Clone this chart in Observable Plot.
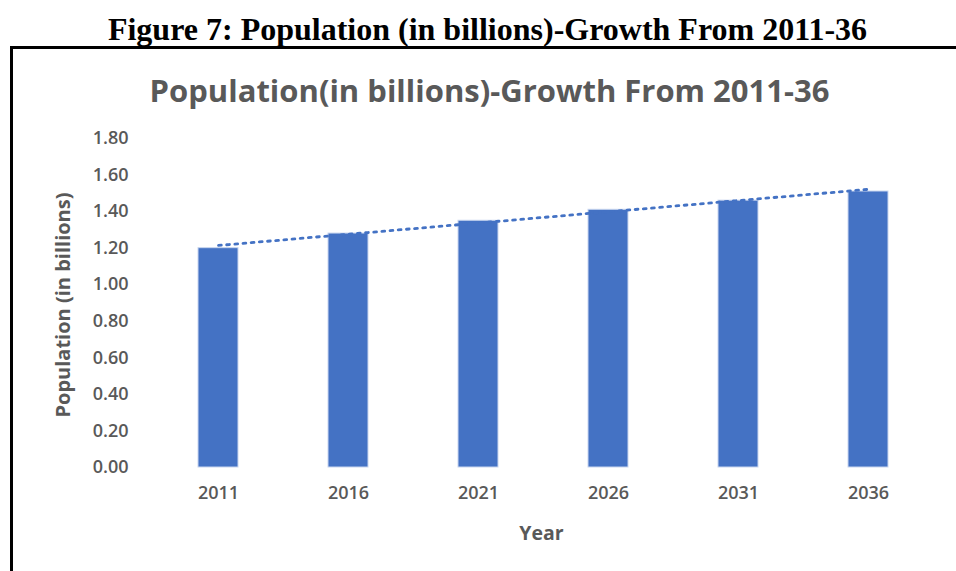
<!DOCTYPE html>
<html><head><meta charset="utf-8">
<script src="https://cdn.jsdelivr.net/npm/d3@7"></script>
<script src="https://cdn.jsdelivr.net/npm/@observablehq/plot@0.6"></script>
<style>
html,body{margin:0;padding:0;background:#fff;}
#wrap{position:relative;width:956px;height:571px;overflow:hidden;background:#fff;}
#chart{position:absolute;left:0;top:0;}
.bt{position:absolute;left:10px;top:46px;width:946px;height:3px;background:#000;}
.bl{position:absolute;left:10px;top:46px;width:3px;height:525px;background:#000;}
</style></head><body>
<div id="wrap"><div id="chart"></div><div class="bt"></div><div class="bl"></div></div>
<script>
const figureTitle = "Figure 7: Population (in billions)-Growth From 2011-36";
const chartTitle = "Population(in billions)-Growth From 2011-36";
const years = ["2011", "2016", "2021", "2026", "2031", "2036"];
const population = [1.20, 1.28, 1.35, 1.41, 1.46, 1.51];
const yTicks = [0, 0.2, 0.4, 0.6, 0.8, 1.0, 1.2, 1.4, 1.6, 1.8];
const xLabel = "Year";
const yLabel = "Population (in billions)";

const data = years.map((year, i) => ({year, value: population[i]}));
// linear trendline (least squares over category index), like Excel's
const idx = d3.range(population.length);
const mx = d3.mean(idx), my = d3.mean(population);
const slope = d3.sum(idx, i => (i - mx) * (population[i] - my)) / d3.sum(idx, i => (i - mx) ** 2);
const intercept = my - slope * mx;
const trend = years.map((year, i) => ({year, value: intercept + slope * i}));

const grey = "#595959";
const blue = "#4472C4";

const chart = Plot.plot({
  width: 956,
  height: 571,
  marginLeft: 151,
  marginRight: 21,
  marginTop: 138,
  marginBottom: 104,
  style: {fontFamily: "'Open Sans', sans-serif", fontSize: "18px", fontWeight: 600, color: grey, background: "transparent", overflow: "visible"},
  x: {domain: years, paddingInner: 0.69, paddingOuter: 0.345, label: null},
  y: {domain: [0, 1.8], label: null},
  marks: [
    Plot.axisY({ticks: yTicks, tickFormat: d3.format(".2f"), tickSize: 0, tickPadding: 23, fill: grey}),
    Plot.axisX({tickSize: 0, tickPadding: 19, fill: grey}),
    Plot.ruleY([0], {stroke: "#d9d9d9", strokeWidth: 1.5, x1: years[0], x2: years[years.length - 1], insetLeft: -66, insetRight: -66}),
    Plot.barY(data, {x: "year", y: "value", fill: blue, stroke: "#c9d6ef", strokeWidth: 1}),
    Plot.line(trend, {x: "year", y: "value", stroke: blue, strokeWidth: 2.8, strokeDasharray: "2.8,5.4"}),
    Plot.text([xLabel], {frameAnchor: "bottom", dx: -2, dy: 66, lineAnchor: "middle", textAnchor: "middle", fontWeight: "bold", fontSize: 19.5, fill: grey}),
    Plot.text([yLabel], {frameAnchor: "left", dx: -88, dy: 2, rotate: -90, lineAnchor: "middle", textAnchor: "middle", fontWeight: "bold", fontSize: 20, fill: grey}),
    Plot.text([chartTitle], {frameAnchor: "top", dx: -54, dy: -46, lineAnchor: "middle", textAnchor: "middle", fontWeight: "bold", fontSize: 31, fill: grey, letterSpacing: "0.7px"}),
    Plot.text([figureTitle], {frameAnchor: "top", dx: -56, dy: -109, lineAnchor: "middle", textAnchor: "middle", fontWeight: "bold", fontSize: 32, fill: "#000", fontFamily: "'Liberation Serif', 'Times New Roman', serif"})
  ]
});
document.getElementById("chart").appendChild(chart);
</script>
</body></html>
